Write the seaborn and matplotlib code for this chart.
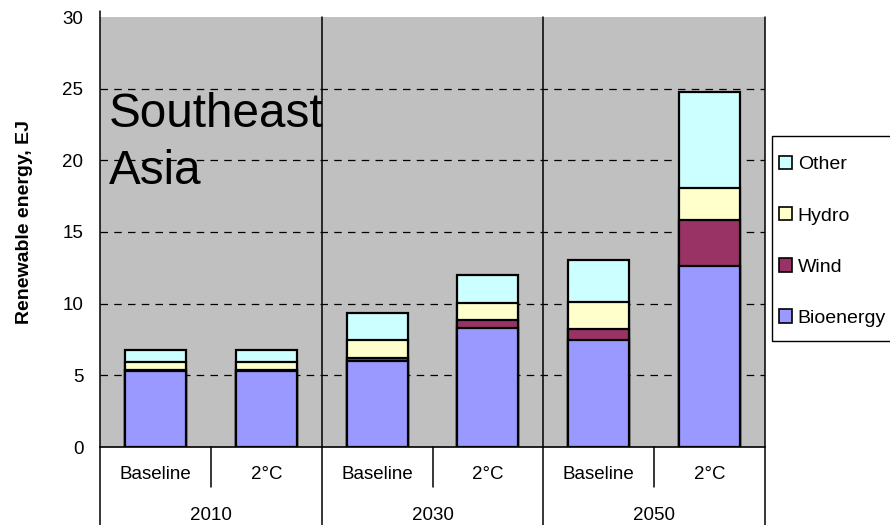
import pandas as pd
import matplotlib.pyplot as plt
import seaborn as sns
from matplotlib.patches import Patch, Rectangle

# chart data (EJ)
years = ['2010', '2030', '2050']
scenarios = ['Baseline', '2°C']
bioenergy = [5.3, 5.3, 6.0, 8.3, 7.5, 12.6]
wind = [0.1, 0.1, 0.2, 0.55, 0.7, 3.25]
hydro = [0.55, 0.55, 1.25, 1.2, 1.95, 2.2]
other = [0.8, 0.8, 1.9, 1.95, 2.9, 6.75]

sources = ['Bioenergy', 'Wind', 'Hydro', 'Other']
colors = {'Bioenergy': '#9999FF', 'Wind': '#993366', 'Hydro': '#FFFFCC', 'Other': '#CCFFFF'}


def build_frame():
    """
        One row per bar, with cumulative stack tops
    """
    bars = [f'{y} {s}' for y in years for s in scenarios]
    df = pd.DataFrame({'bar': bars, 'Bioenergy': bioenergy, 'Wind': wind,
                       'Hydro': hydro, 'Other': other})
    cum = df[sources].cumsum(axis=1)
    for src in sources:
        df['top_' + src] = cum[src]
    return df


def plot_stacked(df):
    sns.set_style('white')
    plt.rcParams['font.family'] = ['Liberation Sans', 'DejaVu Sans']
    plt.rcParams['text.color'] = 'black'
    plt.rcParams['axes.labelcolor'] = 'black'
    plt.rcParams['ytick.color'] = 'black'
    plt.rcParams['xtick.color'] = 'black'

    fig = plt.figure(figsize=(8.9, 5.25), dpi=100)
    ax = fig.add_axes([100 / 890, 78 / 525, 665 / 890, 430 / 525])
    ax.set_facecolor('#C0C0C0')

    # dashed gridlines behind the bars
    for v in [5, 10, 15, 20, 25]:
        ax.axhline(v, color='black', lw=0.9, ls=(0, (6, 5)), zorder=0)

    # draw from the tallest layer down so each segment sits on top
    for src in reversed(sources):
        sns.barplot(data=df, x='bar', y='top_' + src, order=list(df['bar']),
                    color=colors[src], edgecolor='black', linewidth=1.6,
                    width=0.55, errorbar=None, saturation=1, ax=ax, zorder=2)

    n = len(df)
    ax.set_xlim(-0.5, n - 0.5)
    ax.set_ylim(0, 30)
    ax.set_yticks(range(0, 31, 5))
    ax.tick_params(axis='y', direction='out', length=4, width=1, color='black',
                   labelsize=13.5, pad=8)
    ax.tick_params(axis='x', length=0, labelbottom=False)
    ax.set_xlabel('')
    ax.set_ylabel('Renewable energy, EJ', fontsize=14, fontweight='bold')
    ax.yaxis.set_label_coords(-0.101, 0.523)

    for side in ['top', 'right', 'left']:
        ax.spines[side].set_visible(False)
    ax.spines['bottom'].set_color('black')
    ax.spines['bottom'].set_linewidth(1.2)

    # separators: group edges run to the bottom of the figure
    xt = ax.get_xaxis_transform()
    for x in [-0.5, 1.5, 3.5, 5.5]:
        top = 1.013 if x == -0.5 else 1.0
        ax.plot([x, x], [top, -0.185], color='black', lw=1.1,
                transform=xt, clip_on=False, zorder=5)
    for x in [0.5, 2.5, 4.5]:
        ax.plot([x, x], [0, -0.093], color='black', lw=1.1,
                transform=xt, clip_on=False, zorder=5)

    # two-level category labels
    for i, bar in enumerate(df['bar']):
        ax.text(i, -0.063, bar.split(' ')[1], transform=xt, ha='center',
                va='center', fontsize=13.5)
    for j, y in enumerate(years):
        ax.text(2 * j + 0.5, -0.16, y, transform=xt, ha='center',
                va='center', fontsize=13.5)

    # region name inside the plot
    ax.text(0.013, 0.745, 'Southeast', transform=ax.transAxes, fontsize=34.3,
            va='baseline', ha='left', zorder=6)
    ax.text(0.013, 0.612, 'Asia', transform=ax.transAxes, fontsize=34.3,
            va='baseline', ha='left', zorder=6)

    # legend frame drawn separately so it runs off the right edge
    fig.patches.append(Rectangle((772 / 890, (525 - 341) / 525), 0.2, 205 / 525,
                                 transform=fig.transFigure, facecolor='white',
                                 edgecolor='black', linewidth=1.0))
    handles = [Patch(facecolor=colors[s], edgecolor='black', linewidth=1.2, label=s)
               for s in reversed(sources)]
    fig.legend(handles=handles, loc='upper left',
               bbox_to_anchor=(779 / 890, (525 - 156) / 525),
               fontsize=14, frameon=False, labelspacing=1.73,
               handlelength=0.68, handleheight=0.68, handletextpad=0.28,
               borderpad=0, borderaxespad=0)

    fig.savefig('out.png', dpi=100)


if __name__ == '__main__':
    plot_stacked(build_frame())
